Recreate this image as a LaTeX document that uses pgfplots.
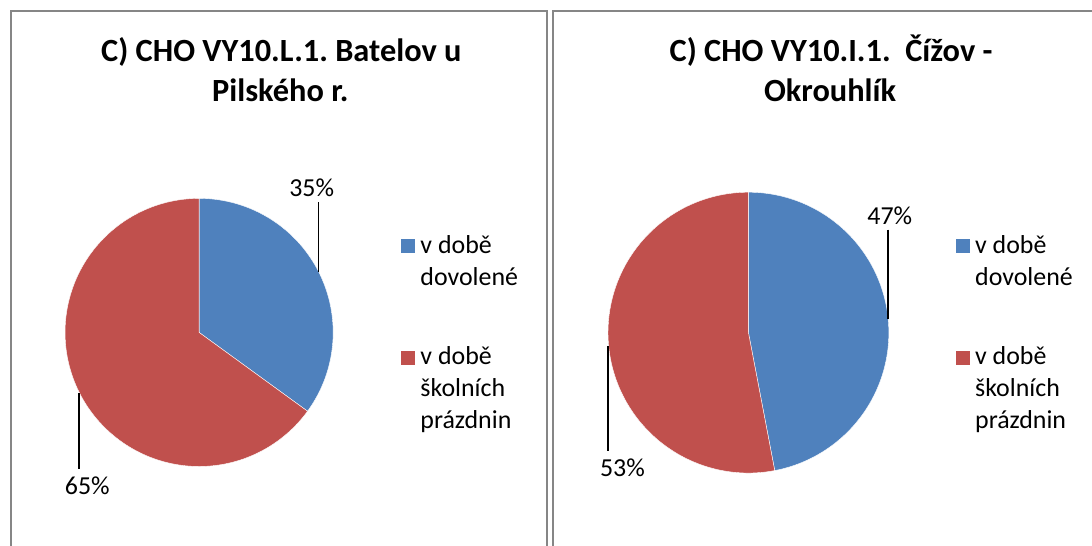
\documentclass[border=0pt]{standalone}
\usepackage{fontspec}
\setmainfont{Carlito}
\usepackage{pgfplots}
\pgfplotsset{compat=1.18}
\usepackage{pgfplotstable}
\definecolor{pieblue}{RGB}{79,129,189}
\definecolor{piered}{RGB}{192,80,77}
\definecolor{framegray}{RGB}{134,134,134}

\pgfplotstableread{
share
35
65
}\tabA
\pgfplotstableread{
share
47
53
}\tabB

\pgfplotsset{
  panel/.style={
    scale only axis, width=1092pt, height=548pt,
    xmin=0, xmax=1092, ymin=-548, ymax=0,
    hide axis, clip=false, at={(0,0)}, anchor=south west,
    legend image code/.code={\fill[##1] (0pt,0pt) rectangle (15pt,15pt);},
    legend style={draw=none, fill=none, inner sep=0pt, outer sep=0pt,
      anchor=north west, column sep=5.3pt,
      row sep={112pt,between origins},
      cells={anchor=base west},
      nodes={inner sep=0pt, outer sep=0pt},
      font=\fontsize{26}{32}\selectfont},
  },
}
\newcommand{\entry}[2]{\vtop{\hbox{\rule{0pt}{20pt}#1}\hbox{#2}}}
\newcommand{\entryy}[3]{\vtop{\hbox{\rule{0pt}{20pt}#1}\hbox{#2}\hbox{#3}}}

\begin{document}
\frenchspacing
\pgfplotstablegetelem{0}{share}\of\tabA
\pgfmathsetmacro{\endA}{90-3.6*\pgfplotsretval}
\pgfplotstablegetelem{0}{share}\of\tabB
\pgfmathsetmacro{\endB}{90-3.6*\pgfplotsretval}
\begin{tikzpicture}
\useasboundingbox (0,0) rectangle (1092pt,548pt);
% ---------- left panel ----------
\begin{axis}[panel, legend style={at={(397/1092,1-234.5/548)}}]
  \draw[framegray, line width=2pt] (axis cs:7,-560) -- (axis cs:7,-11) -- (axis cs:544.5,-11) -- (axis cs:544.5,-560);
  \addplot[fill=pieblue, draw=white, line width=0.4pt, domain=90:\endA, samples=150, variable=\t]
    ({195.4+134.6*cos(t)},{-333.8+134.6*sin(t)}) -- (axis cs:195.4,-333.8) -- cycle;
  \addlegendentry{\entry{v době}{dovolené}}
  \addplot[fill=piered, draw=white, line width=0.4pt, domain=\endA:-270, samples=150, variable=\t]
    ({195.4+134.6*cos(t)},{-333.8+134.6*sin(t)}) -- (axis cs:195.4,-333.8) -- cycle;
  \addlegendentry{\entryy{v době}{školních}{prázdnin}}
  \addplot[forget plot, black, line width=1.8pt] coordinates {(315.3,-203) (315.3,-272.7)};
  \addplot[forget plot, black, line width=1.8pt] coordinates {(75,-395) (75,-470.7)};
  \node[font=\fontsize{26}{32}\selectfont, inner sep=0pt] at (axis cs:308.5,-189) {35\%};
  \node[font=\fontsize{26}{32}\selectfont, inner sep=0pt] at (axis cs:83.2,-488) {65\%};
  \node[font=\bfseries\fontsize{32.5}{40}\selectfont, anchor=base, inner sep=0pt] at (axis cs:278,-62) {C) CHO VY10.L.1. Batelov u};
  \node[font=\bfseries\fontsize{32.5}{40}\selectfont, anchor=base, inner sep=0pt] at (axis cs:277,-101.5) {Pilského r.};
\end{axis}
% ---------- right panel ----------
\begin{axis}[panel, legend style={at={(954/1092,1-234.5/548)}}]
  \draw[framegray, line width=2pt] (axis cs:551,-560) -- (axis cs:551,-11) -- (axis cs:1100,-11);
  \addplot[fill=pieblue, draw=white, line width=0.4pt, domain=90:\endB, samples=150, variable=\t]
    ({747+141*cos(t)},{-334+141*sin(t)}) -- (axis cs:747,-334) -- cycle;
  \addlegendentry{\entry{v době}{dovolené}}
  \addplot[fill=piered, draw=white, line width=0.4pt, domain=\endB:-270, samples=150, variable=\t]
    ({747+141*cos(t)},{-334+141*sin(t)}) -- (axis cs:747,-334) -- cycle;
  \addlegendentry{\entryy{v době}{školních}{prázdnin}}
  \addplot[forget plot, black, line width=1.8pt] coordinates {(887,-230.7) (887,-320.7)};
  \addplot[forget plot, black, line width=1.8pt] coordinates {(606,-347.3) (606,-452.7)};
  \node[font=\fontsize{26}{32}\selectfont, inner sep=0pt] at (axis cs:889,-216.5) {47\%};
  \node[font=\fontsize{26}{32}\selectfont, inner sep=0pt] at (axis cs:620.5,-470) {53\%};
  \node[font=\bfseries\fontsize{32.5}{40}\selectfont, anchor=base, inner sep=0pt] at (axis cs:830,-62) {C) CHO VY10.I.1.\ \ Čížov -};
  \node[font=\bfseries\fontsize{32.5}{40}\selectfont, anchor=base, inner sep=0pt] at (axis cs:829,-101.5) {Okrouhlík};
\end{axis}
\end{tikzpicture}
\end{document}
